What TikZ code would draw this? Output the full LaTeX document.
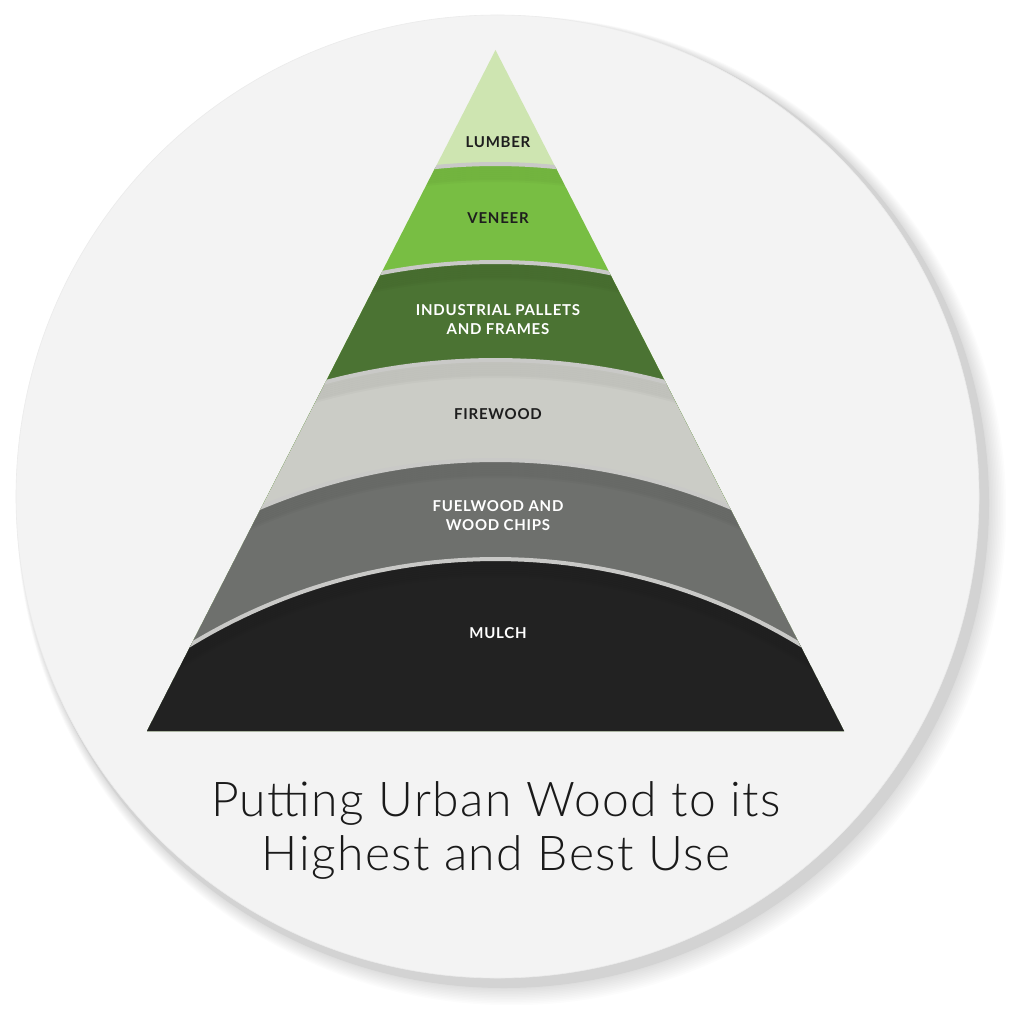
\documentclass[tikz,border=0pt]{standalone}
\usepackage{fontspec}
\setmainfont{Lato}
\newfontfamily\labelfont{Lato}[UprightFont={* Bold},LetterSpace=5]
\newfontfamily\titlefont{Lato Light}[LetterSpace=3]
\definecolor{circlefill}{HTML}{F3F3F3}
\definecolor{shadowgray}{HTML}{D3D3D3}
\definecolor{lumber}{HTML}{CEE5B1}
\definecolor{veneer}{HTML}{78BE43}
\definecolor{industrial}{HTML}{4B7333}
\definecolor{firewood}{HTML}{CBCCC6}
\definecolor{fuel}{HTML}{6E706D}
\definecolor{mulch}{HTML}{222222}
\definecolor{sepgray}{HTML}{C9C9C7}
\definecolor{labeldark}{HTML}{1E1E1E}
\definecolor{titlecol}{HTML}{1A1A1A}
\begin{document}
\begin{tikzpicture}[x=1pt,y=-1pt,
  lbl/.style={font=\labelfont\fontsize{15}{19}\selectfont, align=center, text=labeldark, inner sep=0},
  lblw/.style={lbl, text=white},
  sepline/.style={draw=sepgray, line width=4pt},
  innershade/.style={draw=black, line width=4pt, opacity=0.022}]
\useasboundingbox (0,0) rectangle (1024,1024);
\fill[white] (0,0) rectangle (1024,1024);
% shadow of the disc
\foreach \i in {1,...,12} {
  \fill[black, opacity=0.012] ({503+\i*0.7},{502+\i*0.7}) circle ({484+\i*0.9 pt});
}
\fill[shadowgray] (504,503) circle (485pt);
\fill[circlefill] (497.5,496.5) circle (481.5pt);
\draw[black!8, line width=0.6pt] (497.5,496.5) circle (481.5pt);
% layers: top arcs through the pyramid sides
\coordinate (apex) at (495.5,50);
\coordinate (bl) at (147,731);
\coordinate (br) at (844,731);
\fill[lumber] (apex) -- (br) -- (bl) -- cycle;
\def\layer#1#2#3#4{% color, R, cy, phi
  \fill[#1] plot[domain={90+#4}:{90-#4}, samples=60] ({495.5+#2*cos(\x)},{#3-#2*sin(\x)}) -- (br) -- (bl) -- cycle;
  \begin{scope}
    \clip (apex) -- (br) -- (bl) -- cycle;
    \clip plot[domain={90+#4}:{90-#4}, samples=60] ({495.5+#2*cos(\x)},{#3-#2*sin(\x)}) -- (br) -- (bl) -- cycle;
    \foreach \d in {2,4,...,16} {
      \draw[innershade] plot[domain={90+#4+3}:{90-#4-3}, samples=50] ({495.5+#2*cos(\x)},{#3+\d-#2*sin(\x)});
    }
  \end{scope}
  \begin{scope}
    \clip (apex) -- (br) -- (bl) -- cycle;
    \draw[sepline] plot[domain={90+#4+1}:{90-#4-1}, samples=60] ({495.5+#2*cos(\x)},{#3-#2*sin(\x)});
  \end{scope}
}
\layer{veneer}{599.5}{763.5}{5.734}
\layer{industrial}{597.3}{859.3}{11.013}
\layer{firewood}{667.0}{1027.0}{14.757}
\layer{fuel}{605.5}{1065.5}{22.725}
\layer{mulch}{586.1}{1145.1}{31.245}
% labels
\node[lbl] (lumberlbl) at (498,142) {LUMBER};
\node[lbl] (veneerlbl) at (498,218) {VENEER};
\node[lblw] (indlbl) at (498,319.5) {INDUSTRIAL PALLETS\\AND FRAMES};
\node[lbl] (firelbl) at (498,414) {FIREWOOD};
\node[lblw] (fuellbl) at (498,515.5) {FUELWOOD AND\\WOOD CHIPS};
\node[lblw] (mulchlbl) at (498,633) {MULCH};
% title
\node[font=\titlefont\fontsize{48}{54}\selectfont, text=titlecol, align=center, inner sep=0, anchor=base] (title) at (496,870) {Putting Urban Wood to its\\Highest and Best Use};
\end{tikzpicture}
\end{document}
